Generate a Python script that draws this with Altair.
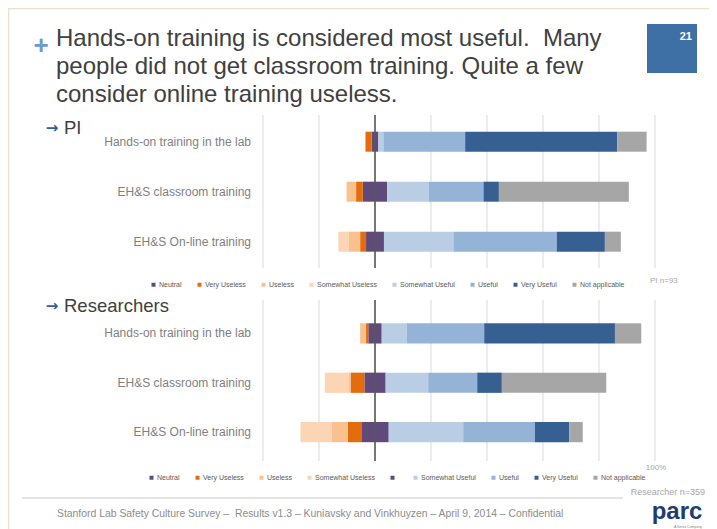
import altair as alt
import pandas as pd

responses = ["Neutral", "Very Useless", "Useless", "Somewhat Useless",
             "Somewhat Useful", "Useful", "Very Useful", "Not applicable"]
colors = ["#604A7B", "#E46C0A", "#FAC090", "#FCD5B5",
          "#B9CDE5", "#95B3D7", "#376092", "#A6A6A6"]
categories = ["Hands-on training in the lab", "EH&S classroom training", "EH&S On-line training"]

# percent values in the order of `responses`
pi_hands = [2.4, 2.2, 0, 0, 1.8, 29.2, 54.3, 10.5]
pi_class = [8.7, 2.4, 3.4, 0, 14.9, 19.5, 5.5, 46.4]
pi_online = [6.4, 2.1, 4.2, 3.6, 24.8, 36.9, 17.2, 5.7]
res_hands = [4.8, 0.8, 2.1, 0, 8.9, 27.7, 46.7, 9.4]
res_class = [7.6, 4.8, 0.9, 8.4, 15.2, 17.5, 8.8, 37.3]
res_online = [9.8, 4.8, 5.9, 11.0, 26.6, 25.6, 12.3, 4.8]

grid_ticks = [-40, -20, 0, 20, 40, 60, 80, 100]

title_lines = ["Hands-on training is considered most useful.\u00a0 Many",
               "people did not get classroom training. Quite a few",
               "consider online training useless."]
footer = ("Stanford Lab Safety Culture Survey \u2013\u00a0 Results v1.3 \u2013 Kuniavsky and "
          "Vinkhuyzen \u2013 April 9, 2014 \u2013 Confidential")

NEG = ["Very Useless", "Useless", "Somewhat Useless"]
POS = ["Somewhat Useful", "Useful", "Very Useful", "Not applicable"]


def diverging(rows):
    recs = []
    for cat, vals in zip(categories, rows):
        d = dict(zip(responses, vals))
        n = d["Neutral"]
        recs.append(dict(category=cat, response="Neutral", start=-n / 2, end=n / 2))
        cur = -n / 2
        for r in NEG:
            v = d[r]
            if v > 0:
                recs.append(dict(category=cat, response=r, start=cur - v, end=cur))
                cur -= v
        cur = n / 2
        for r in POS:
            v = d[r]
            if v > 0:
                recs.append(dict(category=cat, response=r, start=cur, end=cur + v))
                cur += v
    return pd.DataFrame(recs)


pi_df = diverging([pi_hands, pi_class, pi_online])
res_df = diverging([res_hands, res_class, res_online])
cat_df = pd.DataFrame({"category": categories})
grid_df = pd.DataFrame({"tick": grid_ticks})

FONT = "Liberation Sans"
NARROW = "Liberation Sans Narrow, Liberation Sans, Arial"

xscale = alt.Scale(domain=[-40, 100], range=[255, 647])

res_domain = responses[:4] + [" "] + responses[4:]
res_colors = colors[:4] + ["#604A7B"] + colors[4:]


def legend(x, y):
    return alt.Legend(orient="none", legendX=x, legendY=y, direction="horizontal",
                      title=None, symbolType="square", symbolSize=16,
                      symbolStrokeWidth=0, labelFontSize=7, labelFont=FONT,
                      labelColor="#595959", columnPadding=14, labelOffset=2,
                      labelLimit=200)


def panel(df, yrange, pad_inner, cdomain, crange, leg, g0, g1):
    yscale = alt.Scale(domain=categories, range=yrange,
                       paddingInner=pad_inner, paddingOuter=0.3)
    grid = alt.Chart(grid_df).mark_rule(color="#D9D9D9", strokeWidth=1).encode(
        x=alt.X("tick:Q", scale=xscale, axis=None),
        y=alt.value(g0), y2=alt.value(g1))
    center = alt.Chart(grid_df).transform_filter("datum.tick == 0").mark_rule(
        color="#595959", strokeWidth=1.6).encode(
        x=alt.X("tick:Q", scale=xscale, axis=None),
        y=alt.value(g0), y2=alt.value(g1))
    bars = alt.Chart(df).mark_bar(opacity=1).encode(
        x=alt.X("start:Q", scale=xscale, axis=None),
        x2="end:Q",
        y=alt.Y("category:N", scale=yscale, axis=None),
        color=alt.Color("response:N", scale=alt.Scale(domain=cdomain, range=crange),
                        legend=leg))
    labels = alt.Chart(cat_df).mark_text(
        align="right", baseline="middle", font=NARROW, fontSize=12,
        color="#7F7F7F").encode(
        y=alt.Y("category:N", scale=yscale, axis=None),
        x=alt.value(243), text="category:N")
    return alt.layer(grid, bars, center, labels)


pi_panel = panel(pi_df, [108.7, 258.7], 0.6, responses, colors,
                 legend(142, 273), 107, 260)
res_panel = panel(res_df, [300.5, 449], 0.59, res_domain, res_colors,
                  legend(140, 466), 292, 453)


def txt(text, x, y, size, color="#404040", align="left", weight="normal",
        font=FONT, baseline="alphabetic", **kw):
    return alt.Chart(cat_df.head(1)).mark_text(
        text=text, align=align, baseline=baseline, fontSize=size, color=color,
        fontWeight=weight, font=font, **kw).encode(
        x=alt.value(x), y=alt.value(y))


border = alt.Chart(cat_df.head(1)).mark_rect(
    fill="white", stroke="#E8E1CF", strokeWidth=1.5).encode(
    x=alt.value(0.5), x2=alt.value(720), y=alt.value(0.5), y2=alt.value(540))

page_box = alt.Chart(cat_df.head(1)).mark_rect(color="#3E6FA5").encode(
    x=alt.value(639), x2=alt.value(689), y=alt.value(16), y2=alt.value(65))

footer_rule = alt.Chart(cat_df.head(1)).mark_rule(color="#C8C8C8").encode(
    x=alt.value(14), x2=alt.value(615), y=alt.value(490))

layers = [
    border,
    page_box,
    txt("21", 684, 32, 11, color="white", align="right", weight="bold"),
    txt("+", 33, 46, 26, color="#6A9BC9", weight="bold", align="center"),
    txt(title_lines, 48, 38, 24, color="#404040", lineHeight=28),
    txt("\u2192", 44, 125, 15, color="#2F5E98", weight="bold", font="DejaVu Sans",
        align="center"),
    txt("PI", 56, 126, 18.5, color="#404040"),
    txt("\u2192", 44, 303, 15, color="#2F5E98", weight="bold", font="DejaVu Sans",
        align="center"),
    txt("Researchers", 56, 304, 18.5, color="#404040"),
    txt("PI n=93", 642, 275, 8, color="#A6A6A6"),
    txt("100%", 648, 462, 8, color="#A6A6A6", align="center"),
    txt("Researcher n=359", 697, 487, 9, color="#A6A6A6", align="right"),
    footer_rule,
    txt(footer, 49, 509, 10.4, color="#8C8C8C"),
    txt("parc", 669, 511, 24, color="#1F3D6E", weight="bold", align="center"),
    txt("A Xerox Company", 680, 520, 3.5, color="#7F7F7F", align="center"),
]

chart = alt.layer(*layers, pi_panel, res_panel).resolve_scale(
    y="independent", color="independent"
).properties(
    width=701, height=521, padding=0,
    autosize=alt.AutoSizeParams(type="none")
).configure_view(stroke=None)

chart.save("out.html", embed_options={"renderer": "svg", "actions": False})
